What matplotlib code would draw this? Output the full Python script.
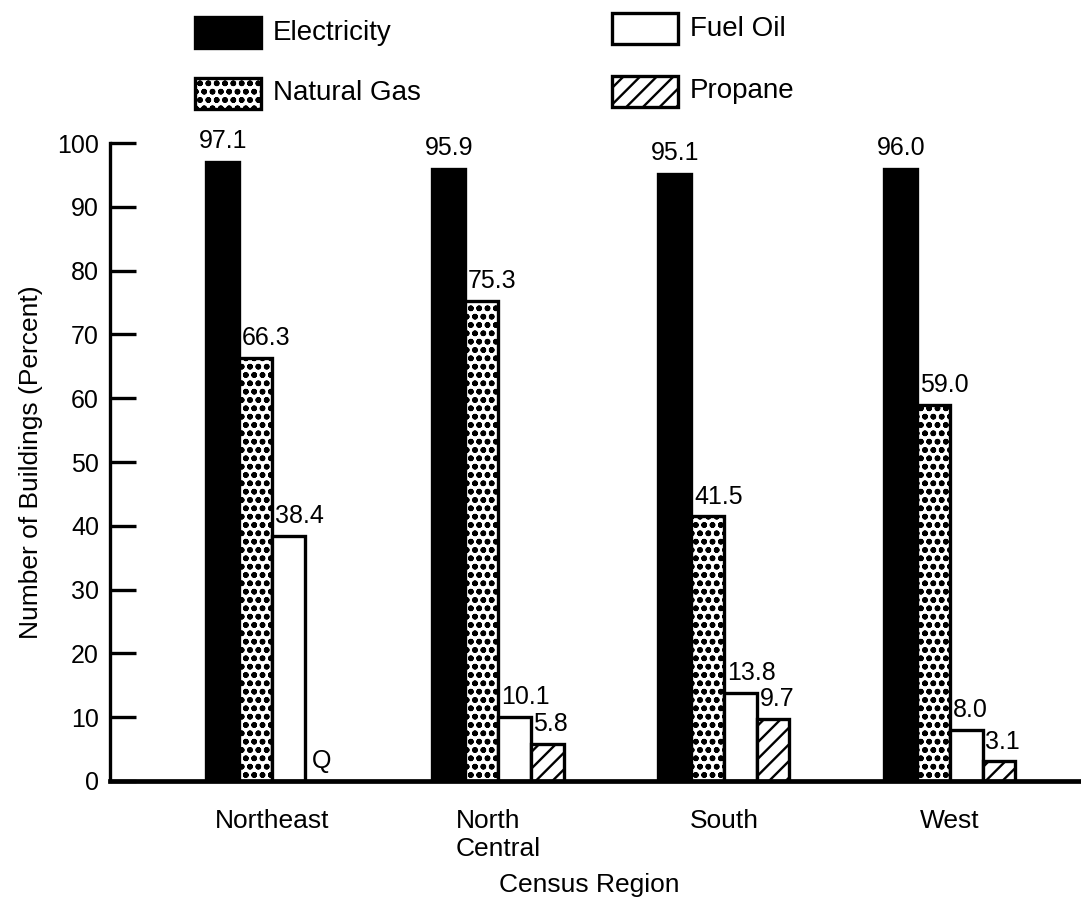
import numpy as np
import matplotlib
matplotlib.use("Agg")
import matplotlib.pyplot as plt
from matplotlib.patches import Rectangle

plt.rcParams['font.family'] = ['Liberation Sans', 'DejaVu Sans']
plt.rcParams['hatch.linewidth'] = 1.7

# Share of buildings using each energy source, by census region (percent)
regions = ["Northeast", "North\nCentral", "South", "West"]
electricity = [97.1, 95.9, 95.1, 96.0]
natural_gas = [66.3, 75.3, 41.5, 59.0]
fuel_oil = [38.4, 10.1, 13.8, 8.0]
propane = [np.nan, 5.8, 9.7, 3.1]   # Northeast value withheld (Q)

series = [
    ("Electricity", electricity, dict(facecolor="black", hatch=None)),
    ("Natural Gas", natural_gas, dict(facecolor="white", hatch="oo")),
    ("Fuel Oil", fuel_oil, dict(facecolor="white", hatch=None)),
    ("Propane", propane, dict(facecolor="white", hatch="//")),
]

fig = plt.figure(figsize=(10.81, 9.10), dpi=100)
ax = fig.add_axes([110 / 1081, 129 / 910, 971 / 1081, 638 / 910])

x = np.arange(len(regions))
width = 0.145
offsets = (np.arange(4) - 1.5) * width
value_fs = 18

for (name, vals, style), off in zip(series, offsets):
    vals = np.asarray(vals, dtype=float)
    ax.bar(x + off, vals, width, edgecolor="black", linewidth=2.4, **style)
    for xi, v in zip(x + off, vals):
        if np.isnan(v):
            ax.text(xi, 1.2, "Q", ha="center", va="bottom", fontsize=value_fs)
            continue
        if name == "Electricity":
            ax.text(xi, v + 1.4, f"{v:.1f}", ha="center", va="bottom",
                    fontsize=value_fs, clip_on=False)
        else:
            ax.text(xi - width / 2 + 0.012, v + 1.2, f"{v:.1f}", ha="left",
                    va="bottom", fontsize=value_fs, clip_on=False)

ax.set_xlim(-0.717, 3.58)
ax.set_ylim(0, 100)
ax.set_yticks(np.arange(0, 101, 10))
ax.tick_params(axis="y", direction="in", length=19, width=2.4, labelsize=18, pad=8)
ax.tick_params(axis="x", length=0, labelsize=19, pad=20)
ax.set_xticks(x)
ax.set_xticklabels(regions, multialignment="left", va="top")

for side in ("top", "right"):
    ax.spines[side].set_visible(False)
ax.spines["left"].set_linewidth(2.4)
ax.spines["bottom"].set_linewidth(3.4)
ax.spines["bottom"].set_zorder(5)

ax.set_ylabel("Number of Buildings (Percent)", fontsize=19, labelpad=10)
ax.set_xlabel("Census Region", fontsize=19, va="center")
ax.xaxis.set_label_coords(0.494, -0.163)

# Legend swatches, two columns across the top
legend_pos = [(195, 17), (195, 78), (612, 13), (612, 76)]
for (name, vals, style), (lx, ly) in zip(series, legend_pos):
    w, h = 66, 31
    fig.patches.append(Rectangle((lx / 1081, 1 - (ly + h) / 910), w / 1081, h / 910,
                                 transform=fig.transFigure, edgecolor="black",
                                 linewidth=2.4, **style))
    fig.text((lx + w + 12) / 1081, 1 - (ly + h / 2) / 910, name, fontsize=20,
             ha="left", va="center")

fig.savefig("out.png", dpi=100)
